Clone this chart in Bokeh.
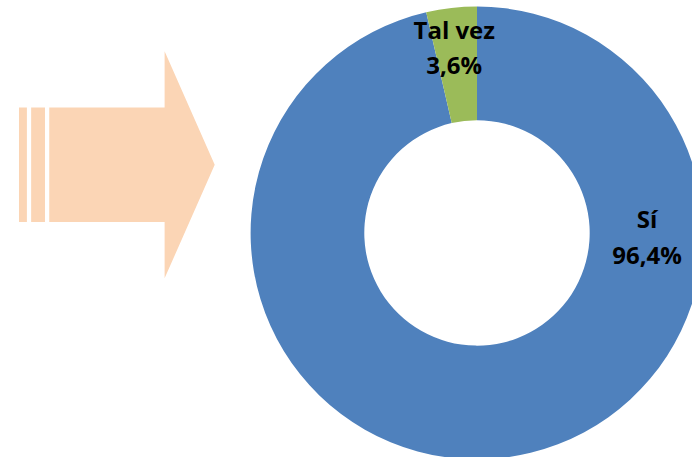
import math
from bokeh.plotting import figure
from bokeh.models import Range1d, ColumnDataSource
from bokeh.core.properties import value
from bokeh.embed import file_html
from bokeh.resources import INLINE

# Data
categories = ["Sí", "Tal vez"]
shares = [96.4, 3.6]
labels = ["96,4%", "3,6%"]
colors = ["#4F81BD", "#9BBB59"]

W, H = 692, 457
p = figure(width=W, height=H, output_backend="svg", toolbar_location=None,
           x_range=Range1d(0, 700), y_range=Range1d(0, 465),
           min_border=0, outline_line_color=None)
p.axis.visible = False
p.grid.visible = False
p.background_fill_color = "white"
p.border_fill_color = "white"

def Y(y):  # y measured from the top of the chart area
    return 465 - y

# Donut: Sí clockwise from top, Tal vez anticlockwise from top
cx, cy = 482, Y(236.5)
total = sum(shares)
tv = shares[1] / total * 2 * math.pi
starts = [math.pi / 2 + tv, math.pi / 2]
ends = [math.pi / 2 + 2 * math.pi, math.pi / 2 + tv]
src = ColumnDataSource(dict(x=[cx, cx], y=[cy, cy], start=starts, end=ends,
                            color=colors, cat=categories))
p.annular_wedge(x="x", y="y", inner_radius=114, outer_radius=229,
                start_angle="start", end_angle="end", fill_color="color",
                line_color=None, source=src)

# Decorative arrow
arrow_col = "#FBD5B5"
p.quad(left=[18.7, 31], right=[26.7, 45], top=[Y(109), Y(109)], bottom=[Y(225.3), Y(225.3)],
       fill_color=arrow_col, line_color=None)
ax = [49.3, 166, 166, 216.7, 166, 166, 49.3]
ay = [Y(109), Y(109), Y(51.7), Y(167), Y(282.7), Y(225.3), Y(225.3)]
p.patch(ax, ay, fill_color=arrow_col, line_color=None)

# Labels
font = value("Open Sans")
lx = [654, 459]
ly_name = [Y(222), Y(30)]
ly_val = [Y(258), Y(65)]
p.text(x=lx, y=ly_name, text=categories, text_font=font, text_font_size="24px",
       text_font_style="bold", text_align="center", text_baseline="middle", text_color="black")
p.text(x=lx, y=ly_val, text=labels, text_font=font, text_font_size="24px",
       text_font_style="bold", text_align="center", text_baseline="middle", text_color="black")

open("out.html", "w").write(file_html(p, INLINE))
